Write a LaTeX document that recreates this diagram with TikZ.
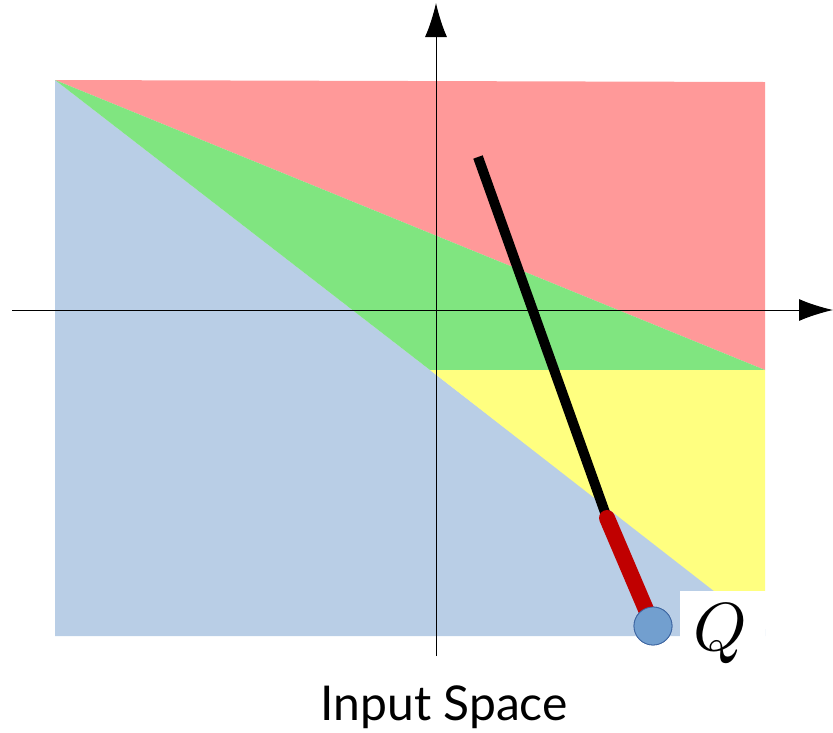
\documentclass[tikz,border=0pt]{standalone}
\usepackage{graphicx}
\usepackage{fontspec}
\newfontfamily\latofont{Lato}
\usetikzlibrary{arrows.meta}

\begin{document}
\begin{tikzpicture}[x=1pt,y=-1pt]
     % Define colors
        \definecolor{regionRed}{RGB}{255, 153, 153}    % Light Red
        \definecolor{regionGreen}{RGB}{128, 229, 128}  % Light Green
        \definecolor{regionYellow}{RGB}{255, 255, 128} % Light Yellow
        \definecolor{regionBlue}{RGB}{185, 206, 230}   % Light Blue
        \definecolor{pathRed}{RGB}{192, 0, 0}
        \definecolor{pointBlue}{RGB}{114, 159, 207}
        \definecolor{pointEdge}{RGB}{60, 100, 160}

        \tikzset{
            axis/.style={line width=1pt, -{Latex[length=34pt,width=22pt]}},
            pathline/.style={line width=10pt},
            pathend/.style={line width=16pt, pathRed, line cap=round},
            qpoint/.style={circle, fill=pointBlue, draw=pointEdge, line width=0.8pt, minimum size=38pt, inner sep=0pt}
        }

        \useasboundingbox (0,0) rectangle (833,732);

        % Draw the four regions
        \fill[regionBlue]   (55,80) -- (430,370) -- (765,629) -- (765,636) -- (55,636) -- cycle;
        \fill[regionRed]    (55,80) -- (765,82) -- (765,370) -- cycle;
        \fill[regionGreen]  (55,80) -- (765,370) -- (430,370) -- cycle;
        \fill[regionYellow] (430,370) -- (765,370) -- (765,591) -- (714,591) -- cycle;

        % Label box of the point
        \node[fill=white, minimum width=85pt, minimum height=95pt, inner sep=0pt, anchor=north west] (qbox) at (680,591) {};
        \node (qlabel) at (720,634) {\scalebox{6.8}{$Q$}};

        % Axes
        \coordinate (xstart) at (12,310);
        \coordinate (xend) at (833,310);
        \coordinate (ystart) at (436,656);
        \coordinate (yend) at (436,3);
        \draw[axis] (xstart) -- (xend);
        \draw[axis] (ystart) -- (yend);

        % Path to the point Q
        \coordinate (top) at (478,157);
        \coordinate (bend) at (607,518);
        \node[qpoint] (q) at (653,626) {};
        \draw[pathline] (top) -- (bend);
        \draw[pathend] (bend) -- (q.center);
        \node[qpoint] at (q) {};

        % Caption
        \node (caption) at (444,707) {\latofont\fontsize{48}{48}\selectfont Input Space};
    \end{tikzpicture}
\end{document}
